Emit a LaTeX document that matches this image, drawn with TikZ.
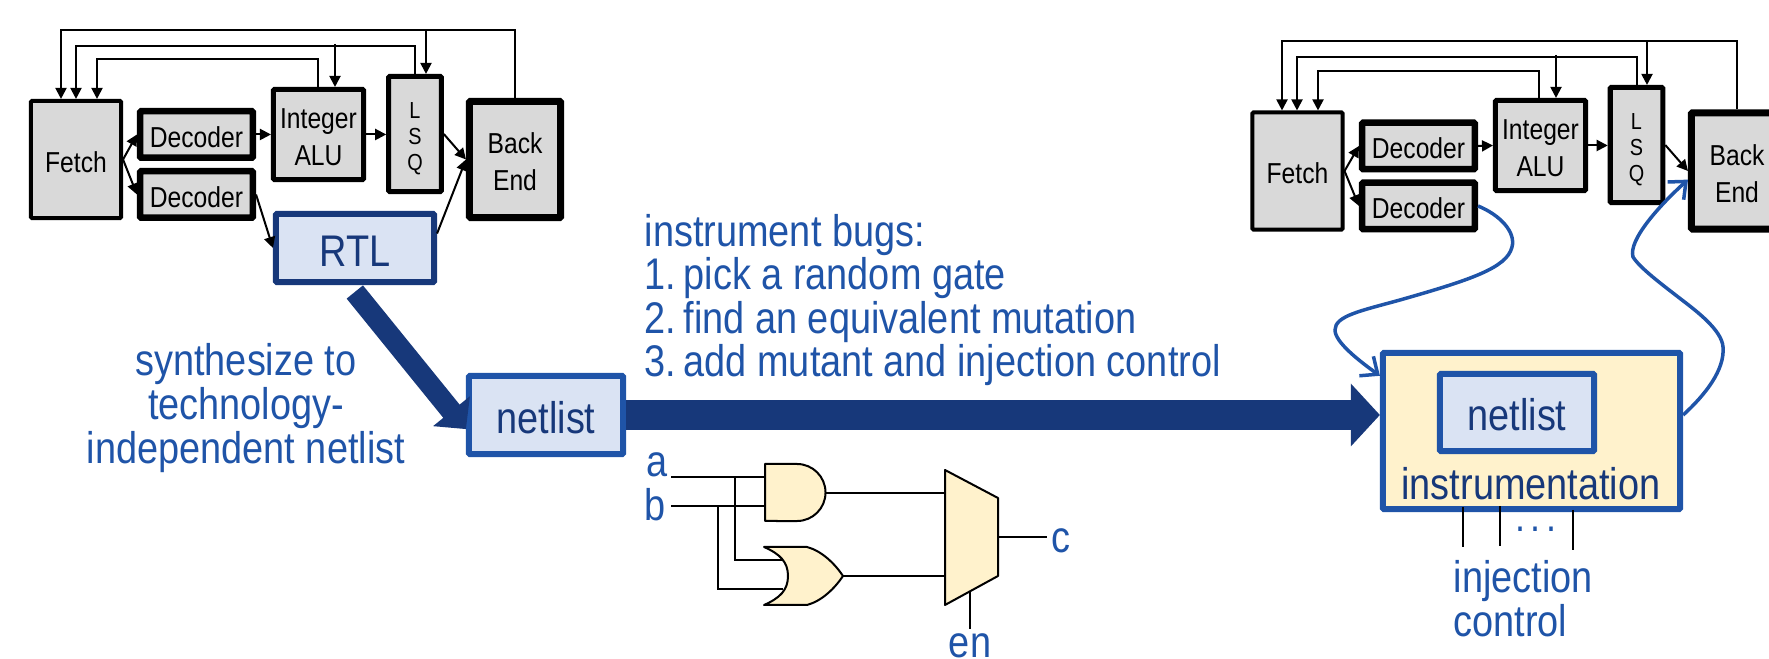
\documentclass[tikz,border=0pt]{standalone}
\usepackage{fontspec}
\setmainfont[FakeStretch=0.855]{Liberation Sans}
\usetikzlibrary{arrows.meta}
\definecolor{boxgray}{HTML}{D9D9D9}
\definecolor{lightblue}{HTML}{DAE3F3}
\definecolor{lightyellow}{HTML}{FFF2CC}
\definecolor{darkblue}{HTML}{17387A}
\definecolor{midblue}{HTML}{1F54A8}
\tikzset{
 block/.style={draw=black,fill=boxgray,rounded corners=0.01cm,align=center,inner sep=0pt,text height=7.3pt,font=\fontsize{8.2}{10.5}\selectfont},
 fetchblock/.style={block,line width=0.04cm,minimum width=0.90cm,minimum height=1.17cm},
 decblock/.style={block,line width=0.065cm,minimum width=1.125cm,minimum height=0.465cm},
 alublock/.style={block,line width=0.05cm,minimum width=0.90cm,minimum height=0.90cm,text height=17.8pt},
 lsqblock/.style={block,line width=0.05cm,minimum width=0.525cm,minimum height=1.15cm,text height=21.8pt,font=\fontsize{6.6}{7.4}\selectfont},
 backblock/.style={block,line width=0.07cm,minimum width=0.91cm,minimum height=1.16cm,text height=17.8pt},
 wire/.style={draw=black,line width=0.02cm},
 wirearrow/.style={wire,-{Triangle[length=0.11cm,width=0.11cm]}},
 bluebox/.style={fill=lightblue,rounded corners=0.01cm,line width=0.06cm,inner sep=0pt,text height=10.4pt,font=\fontsize{12.6}{14}\selectfont},
 bluetext/.style={text=midblue,font=\fontsize{12.6}{12.4}\selectfont,inner sep=0pt},
 darktext/.style={text=darkblue,font=\fontsize{12.6}{12.4}\selectfont,inner sep=0pt},
 bigarrow/.style={draw=darkblue,line width=#1},
 bluecurve/.style={draw=midblue,line width=0.035cm,-{Straight Barb[length=0.14cm,width=0.24cm,line width=0.035cm]}},
 gate/.style={draw=black,fill=lightyellow,line width=0.02cm,line join=round},
}
\begin{document}
\begin{tikzpicture}[x=0.01cm,y=-0.01cm]
 \useasboundingbox (0,0) rectangle (1769,659);
 \clip (0,0) rectangle (1769,659);

 \node[fetchblock] (fetchl) at (76,159.5) {Fetch};
 \node[decblock] (decal) at (196.5,134.5) {Decoder};
 \node[decblock] (decbl) at (196.5,194.5) {Decoder};
 \node[alublock] (alul) at (318.5,134.5) {Integer\\ALU};
 \node[lsqblock] (lsql) at (415,134) {L\\S\\Q};
 \node[backblock] (backl) at (515,159.5) {Back\\End};
 \node[bluebox,draw=darkblue,text=darkblue,minimum width=1.58cm,minimum height=0.68cm] (rtl) at (355,248) {RTL};

 \draw[wire] (backl.north) |- (426,30);
 \draw[wirearrow] (426,30) -| (61,0 |- fetchl.north);
 \draw[wirearrow] (426,30) -- (426,0 |- lsql.north);
 \draw[wirearrow] (415,0 |- lsql.north) |- (76,46) -- (76,0 |- fetchl.north);
 \draw[wirearrow] (335,44) -- (335,0 |- alul.north);
 \draw[wirearrow] (318,0 |- alul.north) |- (97,59) -- (97,0 |- fetchl.north);
 \draw[wirearrow] (fetchl.east) -- (decal.west);
 \draw[wirearrow] (fetchl.east) -- (decbl.west);
 \draw[wirearrow] (decal.east) -- (alul.west);
 \draw[wirearrow] (alul.east) -- (lsql.west |- alul.east);
 \draw[wirearrow] (lsql.east) -- (backl.west);
 \draw[wirearrow] (decbl.east) -- (rtl.west);
 \draw[wirearrow] (rtl.10) -- (backl.west);

 \node[fetchblock] (fetchr) at (1297.5,171) {Fetch};
 \node[decblock] (decar) at (1418.5,146) {Decoder};
 \node[decblock] (decbr) at (1418.5,206) {Decoder};
 \node[alublock] (alur) at (1540.5,145.5) {Integer\\ALU};
 \node[lsqblock] (lsqr) at (1636.5,145) {L\\S\\Q};
 \node[backblock] (backr) at (1737,171) {Back\\End};

 \draw[wire] (backr.north) |- (1647,41);
 \draw[wirearrow] (1647,41) -| (1282,0 |- fetchr.north);
 \draw[wirearrow] (1647,41) -- (1647,0 |- lsqr.north);
 \draw[wirearrow] (1637,0 |- lsqr.north) |- (1297,57) -- (1297,0 |- fetchr.north);
 \draw[wirearrow] (1556,55) -- (1556,0 |- alur.north);
 \draw[wirearrow] (1539,0 |- alur.north) |- (1318,71) -- (1318,0 |- fetchr.north);
 \draw[wirearrow] (fetchr.east) -- (decar.west);
 \draw[wirearrow] (fetchr.east) -- (decbr.west);
 \draw[wirearrow] (decar.east) -- (alur.west);
 \draw[wirearrow] (alur.east) -- (lsqr.west |- alur.east);
 \draw[wirearrow] (lsqr.east) -- (backr.west);

 \node[bluebox,draw=midblue,text=darkblue,minimum width=1.54cm,minimum height=0.78cm] (netlist) at (546,415) {netlist};
 \node[bluebox,draw=midblue,fill=lightyellow,minimum width=2.97cm,minimum height=1.56cm,text height=0pt] (instr) at (1531.5,431) {};
 \node[bluebox,draw=midblue,text=darkblue,minimum width=1.54cm,minimum height=0.77cm] (netlistin) at (1517,412.5) {netlist};
 \node[darktext] (instrtext) at (1531,484) {instrumentation};

 \draw[bigarrow=0.21cm,shorten <=0.09cm,-{Triangle[length=0.23cm,width=0.46cm]}] (rtl.-99) -- (netlist.190);
 \draw[bigarrow=0.30cm,-{Triangle[length=0.29cm,width=0.61cm]}] (netlist.east) -- (instr.west |- netlist.east);

 \node[bluetext,align=center] (synthtext) at (246,408) {synthesize to\\technology-\\independent netlist};
 \node[bluetext,align=left,anchor=west] (bugstext) at (644,300) {instrument bugs:\\\makebox[0.39cm][l]{1.}pick a random gate\\\makebox[0.39cm][l]{2.}find an equivalent mutation\\\makebox[0.39cm][l]{3.}add mutant and injection control};

 \draw[bluecurve] (decbr.east) .. controls (1500,215) and (1516,232) .. (1512,247) .. controls (1507,268) and (1470,280) .. (1400,300) .. controls (1360,311) and (1335,316) .. (1335,330) .. controls (1335,342) and (1358,360) .. (instr.160);
 \draw[bluecurve] (instr.6) .. controls (1705,395) and (1725,370) .. (1723,347) .. controls (1722,330) and (1695,310) .. (1682,300) .. controls (1660,283) and (1640,268) .. (1633,257) .. controls (1628,240) and (1660,205) .. (backr.190);

 \coordinate (ctla) at (1463,507);
 \coordinate (ctlb) at (1500,506);
 \coordinate (ctlc) at (1573,510);
 \draw[wire,line width=0.025cm] (ctla) -- ++(0,40);
 \draw[wire,line width=0.025cm] (ctlb) -- ++(0,40);
 \draw[wire,line width=0.025cm] (ctlc) -- ++(0,40);
 \node[bluetext,font=\fontsize{12}{12}\selectfont] (dots) at (1536,529) {.\hspace{0.05cm}.\hspace{0.05cm}.};
 \node[bluetext,align=left,anchor=north west] (ctltext) at (1453,560) {injection\\control};

 \coordinate (ain) at (671,477);
 \coordinate (bin) at (671,506);
 \coordinate (ajoin) at (735,477);
 \coordinate (bjoin) at (718,506);
 \coordinate (ora) at (783,560);
 \coordinate (orb) at (783,589);
 \coordinate (andout) at (825,493);
 \coordinate (orout) at (843,576);
 \coordinate (muxa) at (945,493);
 \coordinate (muxb) at (945,576);
 \coordinate (muxout) at (998,537);
 \coordinate (cend) at (1047,537);
 \coordinate (enin) at (970,590);
 \coordinate (enend) at (970,629);
 \draw[wire] (ain) -- (767,477);
 \draw[wire] (bin) -- (767,506);
 \draw[wire] (ajoin) |- (ora);
 \draw[wire] (bjoin) |- (orb);
 \draw[wire] (andout) -- (muxa);
 \draw[wire] (orout) -- (muxb);
 \draw[wire] (muxout) -- (cend);
 \draw[wire] (enin) -- (enend);
 \draw[gate] (765,464) -- (797,464) arc[start angle=90,end angle=-90,radius=0.285cm] -- (765,521) -- cycle;
 \draw[gate] (764,547) -- (807,547) .. controls (822,551) and (835,564) .. (843,576) .. controls (835,588) and (822,601) .. (807,605) -- (764,605) .. controls (780,598) and (788,590) .. (788,576) .. controls (788,562) and (780,554) .. (764,547) -- cycle;
 \draw[gate] (945,470) -- (998,498) -- (998,576) -- (945,605) -- cycle;
 \node[bluetext] (alabel) at (657,465) {a};
 \node[bluetext] (blabel) at (655,505) {b};
 \node[bluetext] (clabel) at (1061,541) {c};
 \node[bluetext] (enlabel) at (970,646) {en};
\end{tikzpicture}
\end{document}
